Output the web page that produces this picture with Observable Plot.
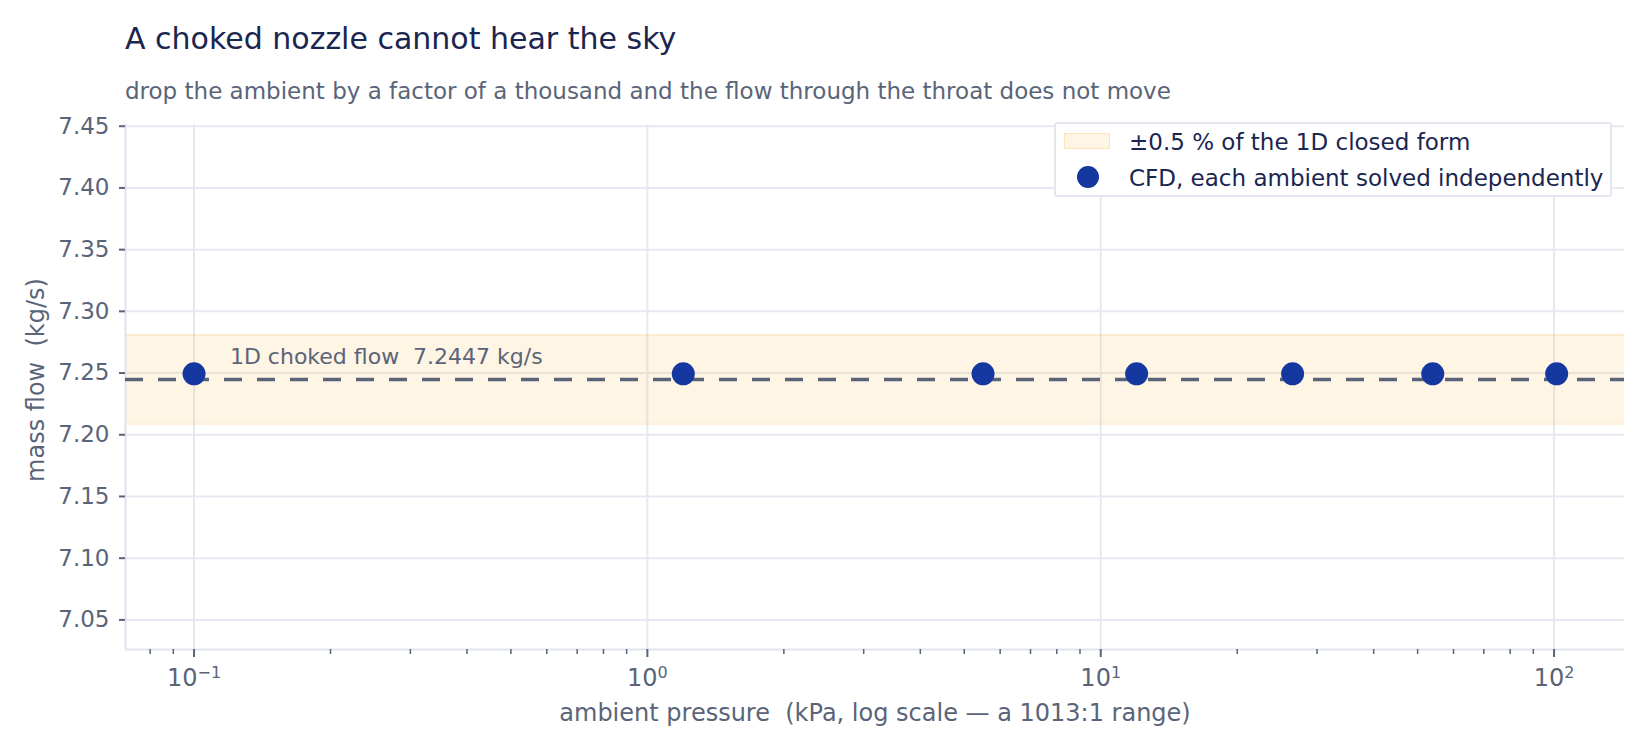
<!DOCTYPE html>
<html>
<head>
<meta charset="utf-8">
<script src="https://cdn.jsdelivr.net/npm/d3@7"></script>
<script src="https://cdn.jsdelivr.net/npm/@observablehq/plot@0.6"></script>
<style>
  html, body { margin: 0; padding: 0; background: #ffffff; }
  #wrap { position: relative; width: 1650px; height: 750px; overflow: hidden; font-family: "DejaVu Sans", sans-serif; }
  #title { position: absolute; left: 125px; top: 24px; font-size: 30px; line-height: 30px; color: #1a2650; white-space: pre; }
  #subtitle { position: absolute; left: 125px; top: 80px; font-size: 23px; line-height: 23px; color: #5a6478; white-space: pre; }
  #chart { position: absolute; left: 0; top: 110px; }
  #legend { position: absolute; left: 1054px; top: 122px; width: 558px; height: 75px; box-sizing: border-box;
            border: 2px solid #e3e7f0; border-radius: 3px; background: #ffffff; }
  .lg-text { position: absolute; left: 73px; font-size: 23px; line-height: 23px; color: #1a2650; white-space: pre; }
  .lg-swatch { position: absolute; left: 8px; top: 9px; width: 46px; height: 16px; box-sizing: border-box; }
  .lg-dot { position: absolute; left: 21px; top: 42px; width: 22px; height: 22px; border-radius: 50%; }
</style>
</head>
<body>
<div id="wrap">
  <div id="title"></div>
  <div id="subtitle"></div>
  <div id="chart"></div>
  <div id="legend">
    <div class="lg-swatch" id="sw1"></div>
    <div class="lg-text" id="lg1" style="top:7px"></div>
    <div class="lg-dot" id="sw2"></div>
    <div class="lg-text" id="lg2" style="top:43px"></div>
  </div>
</div>
<script>
// ---- text ----
const titleText = "A choked nozzle cannot hear the sky";
const subtitleText = "drop the ambient by a factor of a thousand and the flow through the throat does not move";
const xLabel = "ambient pressure  (kPa, log scale \u2014 a 1013:1 range)";
const yLabel = "mass flow  (kg/s)";
const legendLabels = ["\u00b10.5 % of the 1D closed form", "CFD, each ambient solved independently"];
const refLabel = "1D choked flow  7.2447 kg/s";

// ---- data ----
const ambientKPa = [0.1, 1.2, 5.5, 12, 26.5, 54, 101.325];
const massFlow = [7.2494, 7.2494, 7.2494, 7.2494, 7.2494, 7.2494, 7.2494];
const closedForm = 7.2447;
const bandPercent = 0.5;
const refLabelAt = [0.12];

// ---- ticks ----
const yTicks = [7.05, 7.10, 7.15, 7.20, 7.25, 7.30, 7.35, 7.40, 7.45];
const xMajorTicks = [0.1, 1, 10, 100];
const xMajorBase = ["10", "10", "10", "10"];
const xMajorExp = ["\u22121", "0", "1", "2"];
const xMinorTicks = [0.08, 0.09, 0.2, 0.3, 0.4, 0.5, 0.6, 0.7, 0.8, 0.9,
                     2, 3, 4, 5, 6, 7, 8, 9, 20, 30, 40, 50, 60, 70, 80, 90];
const xDomain = [0.0706, 143];
const yDomain = [7.026, 7.4514];

// ---- colors ----
const ink = "#5a6478";
const gridColor = "#e6e9f2";
const pointColor = "#1537a0";
const bandColor = "#f5b83d";

const points = ambientKPa.map((x, i) => ({x, y: massFlow[i]}));
const band = [{lo: closedForm * (1 - bandPercent / 100), hi: closedForm * (1 + bandPercent / 100)}];

document.getElementById("title").textContent = titleText;
document.getElementById("subtitle").textContent = subtitleText;
document.getElementById("lg1").textContent = legendLabels[0];
document.getElementById("lg2").textContent = legendLabels[1];
const sw1 = document.getElementById("sw1");
sw1.style.background = "rgba(245,184,61,0.14)";
sw1.style.border = "1px solid rgba(245,184,61,0.25)";
document.getElementById("sw2").style.background = pointColor;

const SEP = "\u0001";
const chart = Plot.plot({
  width: 1650,
  height: 640,
  marginTop: 14,
  marginBottom: 101,
  marginLeft: 125,
  marginRight: 26,
  style: {fontFamily: "DejaVu Sans", fontSize: "23px", color: ink, background: "transparent"},
  x: {type: "log", domain: xDomain},
  y: {domain: yDomain},
  marks: [
    Plot.gridY(yTicks, {stroke: gridColor, strokeOpacity: 1, strokeWidth: 2}),
    Plot.gridX(xMajorTicks, {stroke: gridColor, strokeOpacity: 1, strokeWidth: 2}),
    Plot.rect(band, {y1: "lo", y2: "hi", fill: bandColor, fillOpacity: 0.14}),
    Plot.ruleY(band, {y: "hi", stroke: bandColor, strokeOpacity: 0.2, strokeWidth: 1.5}),
    Plot.ruleY(band, {y: "lo", stroke: bandColor, strokeOpacity: 0.2, strokeWidth: 1.5}),
    Plot.ruleX([xDomain[0]], {stroke: "#dfe3ee", strokeWidth: 2}),
    Plot.ruleY([yDomain[0]], {stroke: "#dfe3ee", strokeWidth: 2}),
    Plot.ruleY([closedForm], {stroke: ink, strokeWidth: 3.5, strokeDasharray: "18,15"}),
    Plot.text([refLabel], {x: refLabelAt, y: [closedForm], text: d => d, textAnchor: "start",
      lineAnchor: "bottom", dy: -16, fill: ink, fontSize: 22}),
    Plot.dot(points, {x: "x", y: "y", r: 11.5, fill: pointColor, stroke: null}),
    Plot.axisY(yTicks, {tickSize: 6, tickPadding: 10, tickFormat: d3.format(".2f"), stroke: ink, strokeWidth: 2,
      label: null, fill: ink, fontSize: 23}),
    Plot.text([yLabel], {frameAnchor: "left", text: d => d, rotate: -90, textAnchor: "middle",
      lineAnchor: "top", dx: -99, dy: -7, fill: ink, fontSize: 24}),
    Plot.axisX(xMinorTicks, {tickSize: 5, tickFormat: () => "", label: null, stroke: ink, strokeWidth: 1.5}),
    Plot.axisX(xMajorTicks, {tickSize: 8, tickPadding: 11,
      tickFormat: d => { const i = xMajorTicks.indexOf(d); return xMajorBase[i] + SEP + xMajorExp[i]; },
      stroke: ink, strokeWidth: 2, fill: ink, fontSize: 24,
      label: xLabel, labelAnchor: "center", labelOffset: 71, labelArrow: "none"})
  ]
});
// render exponents as real superscripts
chart.querySelectorAll("text, tspan").forEach(el => {
  if (el.children.length === 0 && el.textContent.includes(SEP)) {
    const [base, exp] = el.textContent.split(SEP);
    el.textContent = base;
    const t = document.createElementNS("http://www.w3.org/2000/svg", "tspan");
    t.setAttribute("dy", "-0.45em");
    t.setAttribute("font-size", "16");
    t.textContent = exp;
    el.appendChild(t);
  }
});
document.getElementById("chart").appendChild(chart);
</script>
</body>
</html>
